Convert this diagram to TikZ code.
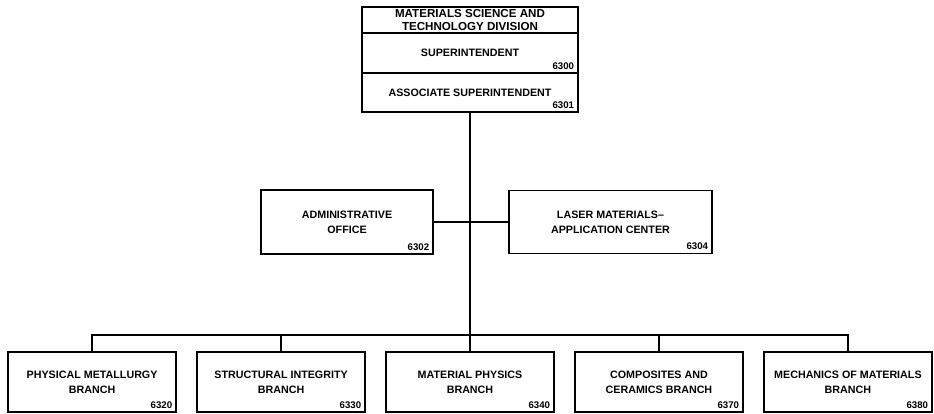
\documentclass[tikz,border=0pt]{standalone}
\usepackage{fontspec}
\setmainfont{Liberation Sans}
\usetikzlibrary{positioning}
\newcommand{\unitfont}{\fontsize{6.1}{8.4}\selectfont\bfseries}
\newcommand{\headfont}{\fontsize{6.6}{7}\selectfont\bfseries}
\newcommand{\numfont}{\fontsize{5.5}{6}\selectfont\bfseries}

\begin{document}
\begin{tikzpicture}[
    x=0.02cm, y=-0.02cm,
    unit/.style={draw, line width=1.1pt, fill=white, align=center, font=\unitfont, inner sep=0pt, outer sep=0pt},
    head/.style={unit, font=\headfont, minimum width=4.32cm, minimum height=0.52cm},
    branch/.style={unit, minimum width=3.36cm, minimum height=1.2cm},
    num/.style={font=\numfont, anchor=south east, inner sep=2pt},
    link/.style={line width=1.1pt}
  ]
    \useasboundingbox (0,0) rectangle (934,413);

    % division heading
    \node[head] (div) at (470,20) {MATERIALS SCIENCE AND\\TECHNOLOGY DIVISION};
    \node[unit, below=0pt of div, minimum width=4.32cm, minimum height=0.8cm] (sup) {SUPERINTENDENT};
    \node[unit, below=0pt of sup, minimum width=4.32cm, minimum height=0.78cm] (assoc) {ASSOCIATE SUPERINTENDENT};
    \node[num] (n6300) at (sup.south east) {6300};
    \node[num] (n6301) at (assoc.south east) {6301};

    % staff offices
    \coordinate (hub) at (470,222);
    \node[unit, left=0.74cm of hub, minimum width=3.44cm, minimum height=1.28cm] (admin) {ADMINISTRATIVE\\OFFICE};
    \node[unit, right=0.78cm of hub, minimum width=4.06cm, minimum height=1.26cm] (laser) {LASER MATERIALS--\\APPLICATION CENTER};
    \node[num] (n6302) at (admin.south east) {6302};
    \node[num] (n6304) at (laser.south east) {6304};

    % branches
    \coordinate (bus) at (470,335);
    \node[branch] (matphys) at (470,382) {MATERIAL PHYSICS\\BRANCH};
    \node[branch, left=0.42cm of matphys] (struct) {STRUCTURAL INTEGRITY\\BRANCH};
    \node[branch, left=0.42cm of struct] (phys) {PHYSICAL METALLURGY\\BRANCH};
    \node[branch, right=0.42cm of matphys] (comp) {COMPOSITES AND\\CERAMICS BRANCH};
    \node[branch, right=0.42cm of comp] (mech) {MECHANICS OF MATERIALS\\BRANCH};
    \node[num] (n6320) at (phys.south east) {6320};
    \node[num] (n6330) at (struct.south east) {6330};
    \node[num] (n6340) at (matphys.south east) {6340};
    \node[num] (n6370) at (comp.south east) {6370};
    \node[num] (n6380) at (mech.south east) {6380};

    \draw[link] (assoc.south) -- (matphys.north);
    \draw[link] (admin.east) -- (laser.west);
    \draw[link] (phys.north) -- (phys.north |- bus) -- (mech.north |- bus) -- (mech.north);
    \draw[link] (struct.north) -- (struct.north |- bus);
    \draw[link] (comp.north) -- (comp.north |- bus);

  \end{tikzpicture}
\end{document}
